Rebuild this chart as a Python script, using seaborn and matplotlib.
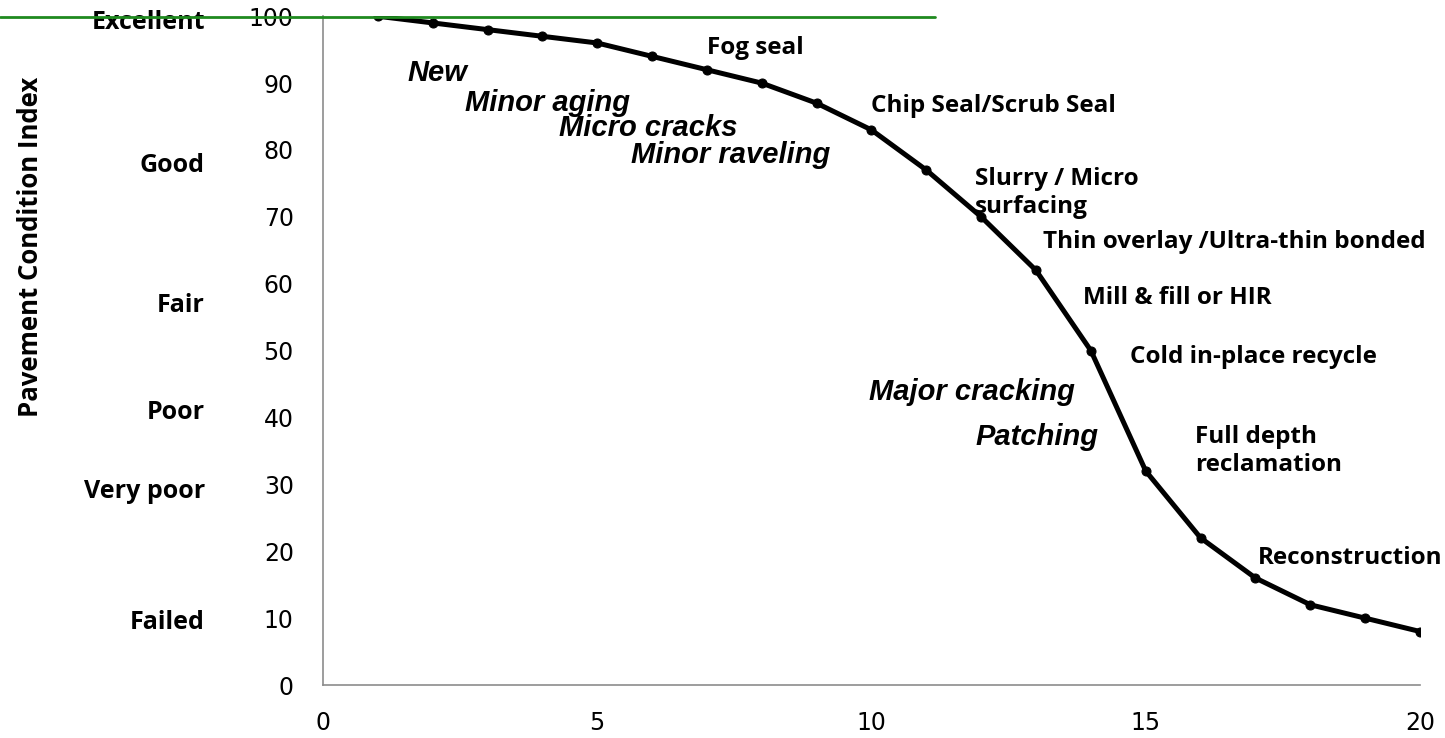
import matplotlib
matplotlib.use("Agg")
import matplotlib.pyplot as plt
import seaborn as sns
import pandas as pd
from matplotlib.lines import Line2D

# data
years = list(range(1, 21))
pci = [100, 99, 98, 97, 96, 94, 92, 90, 87, 83, 77, 70, 62, 50, 32, 22, 16, 12, 10, 8]

treatments = ["Fog seal", "Chip Seal/Scrub Seal", "Slurry / Micro\nsurfacing",
              "Thin overlay /Ultra-thin bonded", "Mill & fill or HIR",
              "Cold in-place recycle", "Full depth\nreclamation", "Reconstruction"]
treat_x = [7.0, 10.0, 11.89, 13.12, 13.86, 14.71, 15.90, 17.04]
treat_y = [95.2, 86.6, 73.6, 66.2, 57.9, 49.0, 35.0, 19.0]

distress = ["New", "Minor aging", "Micro cracks", "Minor raveling", "Major cracking", "Patching"]
distress_x = [1.55, 2.59, 4.30, 5.62, 9.95, 11.89]
distress_y = [91.5, 87.1, 83.3, 79.2, 43.8, 37.1]

ratings = ["Excellent", "Good", "Fair", "Poor", "Very poor", "Failed"]
rating_y = [99.1, 77.7, 56.7, 40.7, 29.0, 9.3]

df = pd.DataFrame({"Year": years, "PCI": pci})

sns.set_style("white")
fig = plt.figure(figsize=(14.45, 7.38), dpi=100)
ax = fig.add_axes([0.2235, 0.0718, 0.7592, 0.9062])

sns.lineplot(data=df, x="Year", y="PCI", ax=ax, color="black", linewidth=3.6,
             marker="o", markersize=6.5, markeredgecolor="black")

ax.set_xlim(0, 20)
ax.set_ylim(0, 100)
ax.set_xticks([0, 5, 10, 15, 20])
ax.set_yticks(range(0, 101, 10))
for s in ["top", "right"]:
    ax.spines[s].set_visible(False)
for s in ["left", "bottom"]:
    ax.spines[s].set_color("#8c8c8c")
    ax.spines[s].set_linewidth(1.2)
ax.tick_params(axis="both", direction="out", length=7, width=1.2, color="#8c8c8c",
               labelsize=17, labelcolor="black")
ax.tick_params(axis="y", pad=14)
ax.tick_params(axis="x", pad=12)
for lab in ax.get_xticklabels() + ax.get_yticklabels():
    lab.set_fontfamily("DejaVu Sans")

ax.set_xlabel("")
ax.set_ylabel("")
fig.text(0.021, 0.665, "Pavement Condition Index", rotation=90, ha="center", va="center",
         fontsize=18.5, fontweight="bold", family="Open Sans", color="black")

for t, x, y in zip(treatments, treat_x, treat_y):
    ax.text(x, y, t, ha="left", va="center", fontsize=17.5, fontweight="bold",
            family="Open Sans", linespacing=1.2, color="black")

for t, x, y in zip(distress, distress_x, distress_y):
    ax.text(x, y, t, ha="left", va="center", fontsize=21, fontweight="bold",
            fontstyle="italic", family="Liberation Sans", color="black")

for t, y in zip(ratings, rating_y):
    ax.text(-0.1076, y, t, transform=ax.get_yaxis_transform(), ha="right", va="center",
            fontsize=18, fontweight="bold", family="Open Sans", color="black")

fig.add_artist(Line2D([0, 935 / 1445], [1 - 17 / 738, 1 - 17 / 738],
                      transform=fig.transFigure, color="#1f8a1f", linewidth=2))

fig.savefig("out.png", dpi=100)
